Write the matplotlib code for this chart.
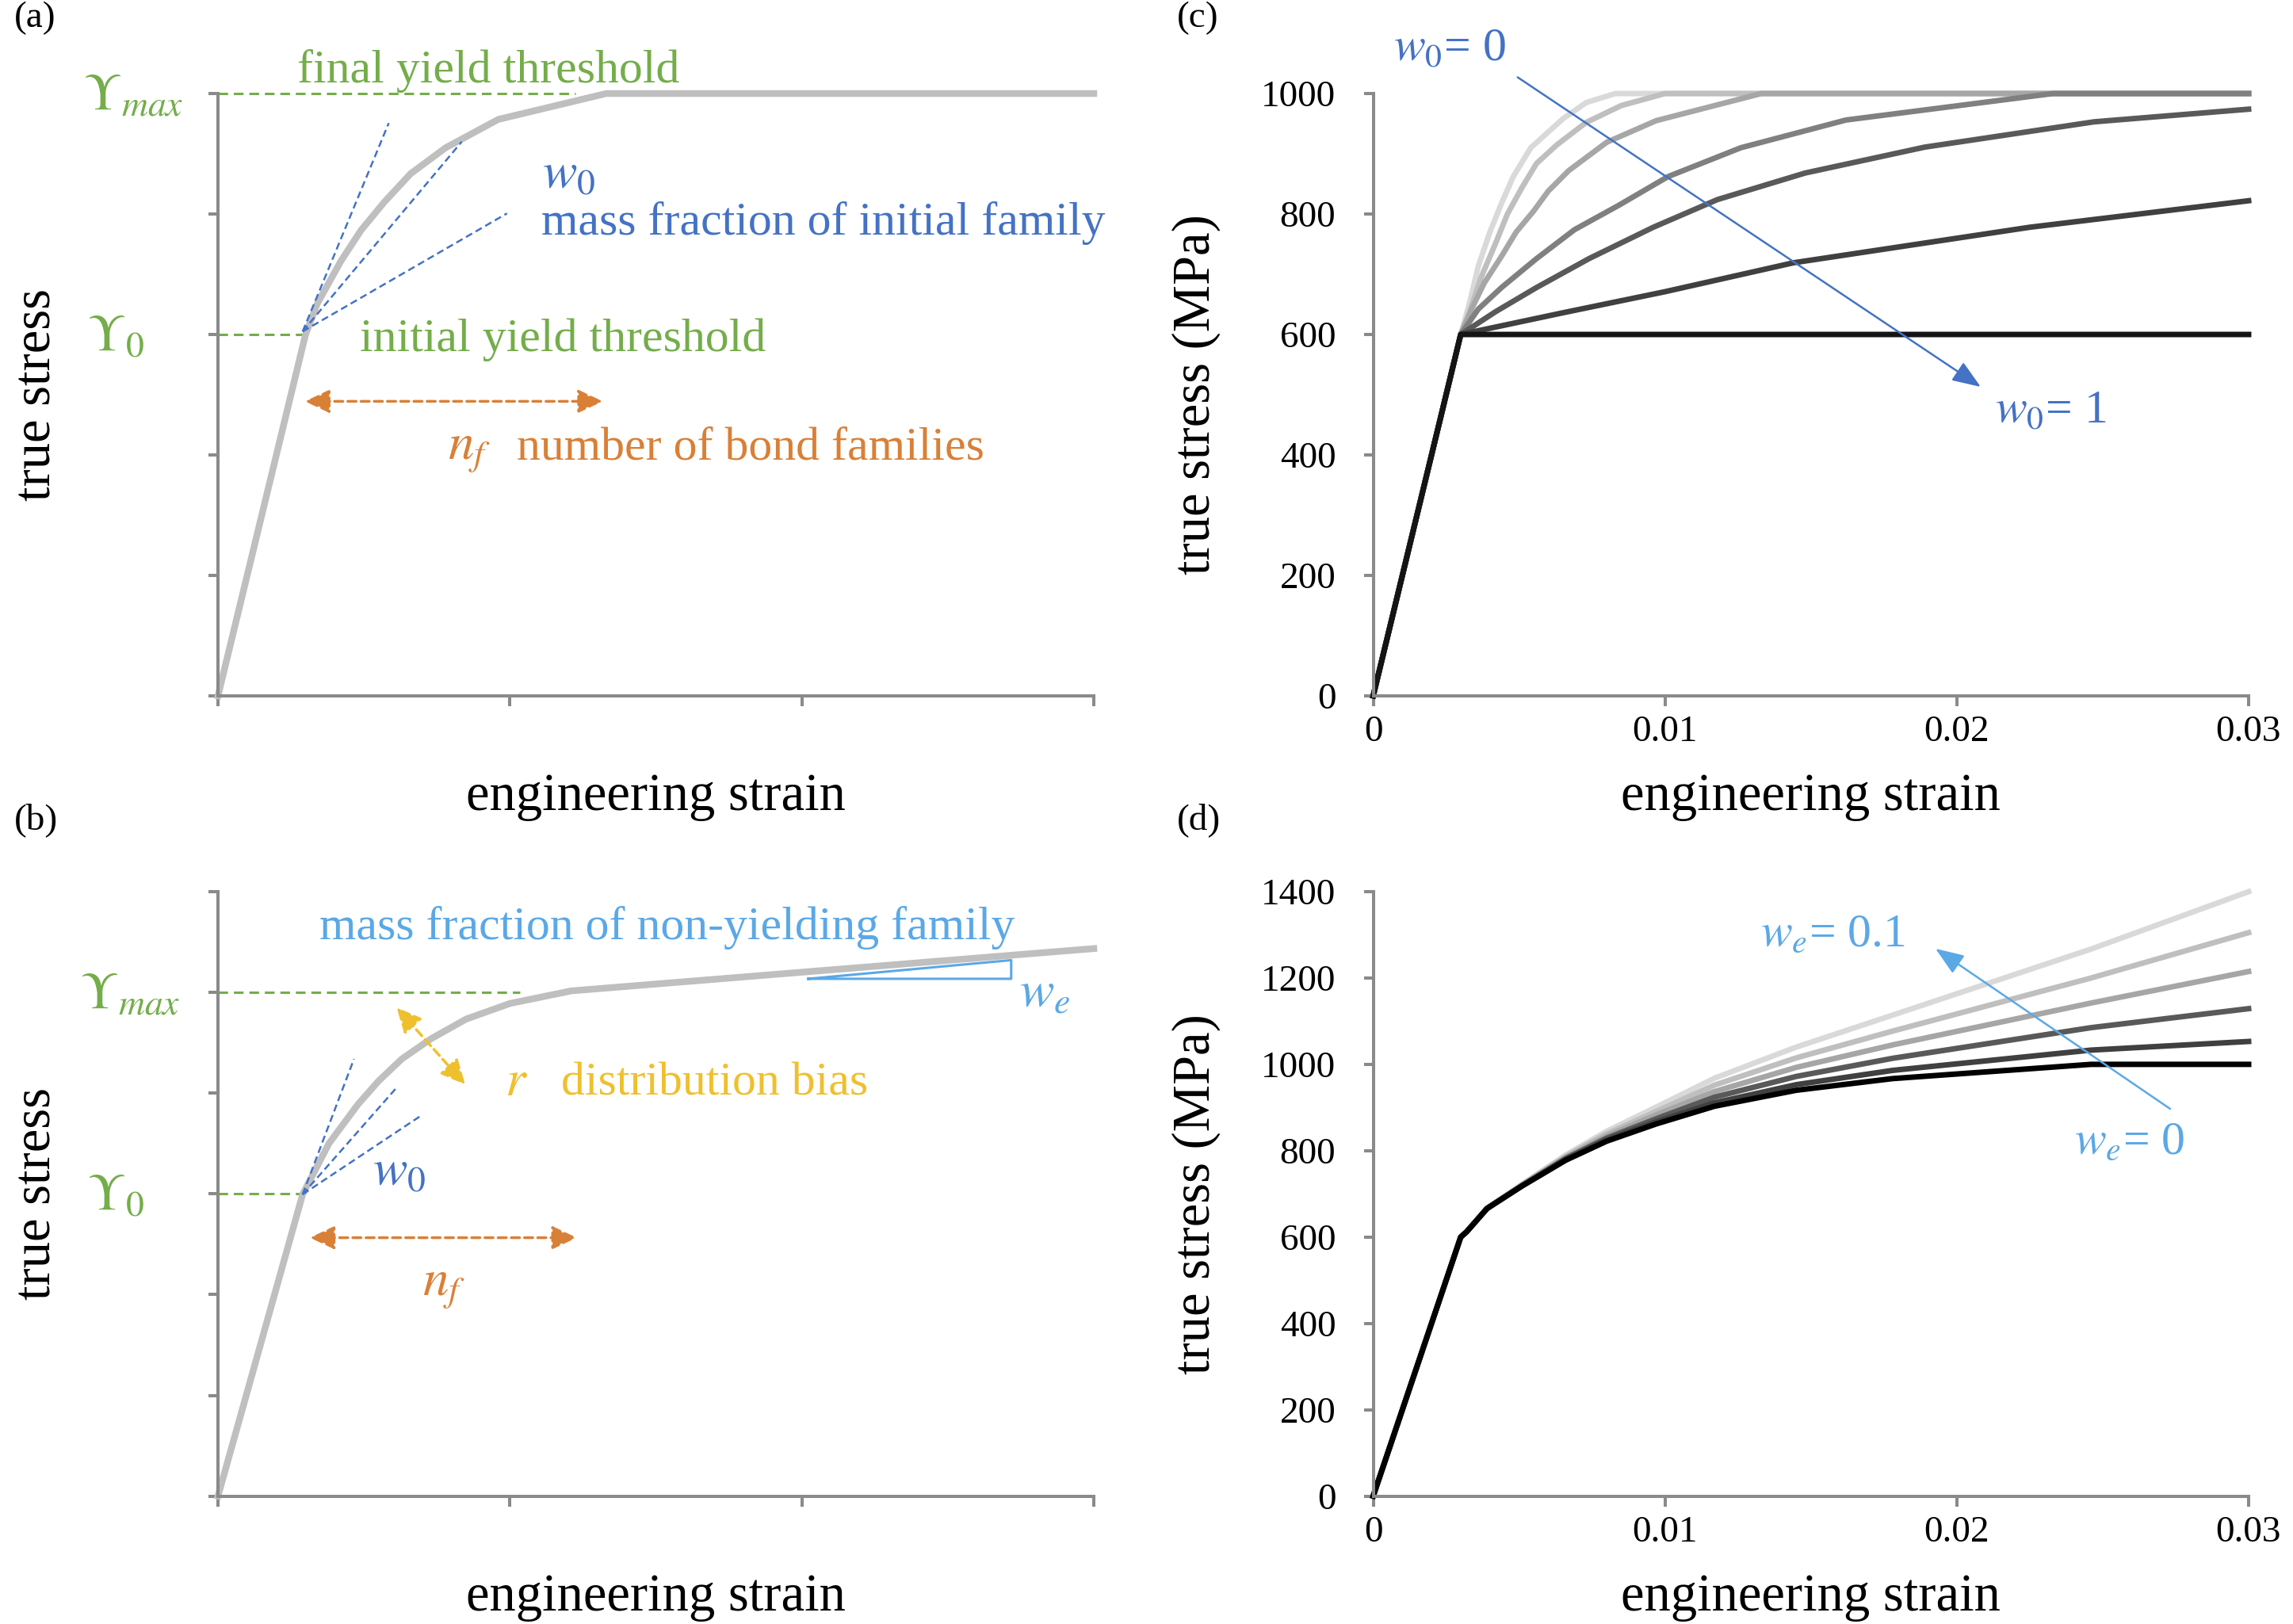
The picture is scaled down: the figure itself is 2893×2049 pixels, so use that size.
"""
Stress-strain curves for the bond-family yield model, panels (a)-(d).
"""

import matplotlib
matplotlib.use('Agg')
import matplotlib.pyplot as plt

plt.rcParams.update({
    'font.family': 'Liberation Serif',
    'mathtext.fontset': 'stix',
    'axes.spines.top': False,
    'axes.spines.right': False,
    'figure.facecolor': 'white',
    'axes.facecolor': 'white',
})

# ---------------- data ----------------
x_ticks = [0, 0.01, 0.02, 0.03]
x_tick_labels = ['0', '0.01', '0.02', '0.03']
y_ticks_c = [0, 200, 400, 600, 800, 1000]
y_ticks_d = [0, 200, 400, 600, 800, 1000, 1200, 1400]

# (a) schematic curve
a_strain = [0, 0.003, 0.0034, 0.0042, 0.0049, 0.0057, 0.0066, 0.0078, 0.0096, 0.0133, 0.03]
a_stress = [0, 600, 651, 721, 773, 820, 867, 910, 957, 1000, 1000]

# (b) schematic curve with non-yielding family
b_strain = [0, 0.0029, 0.0038, 0.0048, 0.0055, 0.0063, 0.0073, 0.0085, 0.0100, 0.0121, 0.03]
b_stress = [0, 599, 700, 778, 824, 868, 908, 947, 978, 1003, 1087]

# (c) w0 from 0 (light) to 1 (black)
c_strain_1 = [0, 0.003, 0.0033, 0.0036, 0.0040, 0.0044, 0.0048, 0.0054, 0.0065, 0.0073, 0.0083, 0.03]
c_stress_1 = [0, 600, 652, 713, 770, 818, 862, 910, 958, 985, 1000, 1000]
c_strain_2 = [0, 0.003, 0.0033, 0.0037, 0.0042, 0.0046, 0.0051, 0.0056, 0.0063, 0.0073, 0.0085, 0.0100, 0.03]
c_stress_2 = [0, 600, 637, 695, 752, 800, 844, 884, 915, 952, 980, 1000, 1000]
c_strain_3 = [0, 0.003, 0.0034, 0.0038, 0.0044, 0.0049, 0.0055, 0.0060, 0.0067, 0.0080, 0.0097, 0.0133, 0.03]
c_stress_3 = [0, 600, 645, 685, 730, 770, 805, 838, 872, 919, 955, 1000, 1000]
c_strain_4 = [0, 0.003, 0.0036, 0.0044, 0.0056, 0.0069, 0.0084, 0.0101, 0.0126, 0.0162, 0.0233, 0.03]
c_stress_4 = [0, 600, 642, 678, 726, 774, 814, 862, 910, 956, 1000, 1000]
c_strain_5 = [0, 0.003, 0.0042, 0.0056, 0.0074, 0.0096, 0.0118, 0.0148, 0.0189, 0.0247, 0.03]
c_stress_5 = [0, 600, 638, 678, 726, 778, 824, 868, 911, 953, 974]
c_strain_6 = [0, 0.003, 0.0065, 0.0100, 0.0144, 0.0225, 0.03]
c_stress_6 = [0, 600, 636, 671, 719, 778, 822]
c_strain_7 = [0, 0.003, 0.03]
c_stress_7 = [0, 600, 600]
c_colors = ['#d9d9d9', '#bfbfbf', '#a6a6a6', '#808080', '#595959', '#404040', '#141414']

# (d) we from 0.1 (light) to 0 (black)
d_strain = [0, 0.003, 0.0032, 0.0039, 0.0051, 0.0066, 0.0080, 0.0097, 0.0117, 0.0145, 0.0178, 0.0246, 0.03]
d_stress_1 = [0, 600, 612, 667, 722, 790, 845, 901, 968, 1040, 1114, 1267, 1400]
d_stress_2 = [0, 600, 612, 667, 721, 787, 839, 891, 952, 1015, 1077, 1200, 1305]
d_stress_3 = [0, 600, 612, 666, 720, 784, 834, 883, 937, 993, 1045, 1142, 1215]
d_stress_4 = [0, 600, 612, 666, 719, 782, 829, 874, 924, 972, 1014, 1085, 1129]
d_stress_5 = [0, 600, 612, 666, 719, 780, 825, 867, 911, 953, 986, 1033, 1053]
d_stress_6 = [0, 600, 612, 666, 718, 778, 822, 862, 903, 940, 967, 1000, 1000]
d_colors = ['#d9d9d9', '#bfbfbf', '#a6a6a6', '#595959', '#404040', '#000000']

# colours
GREEN = '#74ad4a'
BLUE = '#4472c4'
LBLUE = '#5ba8e6'
ORANGE = '#d98037'
YELLOW = '#efc02e'
AXIS = '#8a8a8a'
CURVE = '#bfbfbf'

FS_TICK = 34
FS_LABEL = 48
FS_NOTE = 43
FS_MATH = 47

fig = plt.figure(figsize=(28.93, 20.49), dpi=100)
ax_a = fig.add_axes([0.09506, 0.5715, 0.38196, 0.37091])
ax_b = fig.add_axes([0.09506, 0.07877, 0.38196, 0.37218])
ax_c = fig.add_axes([0.59886, 0.5715, 0.38178, 0.37091])
ax_d = fig.add_axes([0.59886, 0.07877, 0.38178, 0.37218])


def style_axes(ax, yticks, units, labels):
    ax.set_xlim(0, 0.03)
    ax.set_ylim(yticks[0], yticks[-1])
    for s in ['left', 'bottom']:
        ax.spines[s].set_color(AXIS)
        ax.spines[s].set_linewidth(2.9)
    ax.tick_params(direction='out', length=9, width=2.9, color=AXIS,
                   labelsize=FS_TICK)
    ax.tick_params(axis='x', pad=9)
    ax.tick_params(axis='y', pad=25)
    if labels:
        ax.set_xticks(x_ticks, labels=x_tick_labels)
        ax.set_yticks(yticks, labels=[str(v) for v in yticks])
    else:
        ax.set_xticks(x_ticks)
        ax.set_yticks(yticks)
        ax.tick_params(labelleft=False, labelbottom=False)
    ax.set_xlabel('engineering strain', fontsize=FS_LABEL)
    ax.set_ylabel('true stress' + units, fontsize=FS_LABEL)
    ax.xaxis.set_label_coords(0.5, -0.128)
    ax.yaxis.set_label_coords(-0.174 if labels else -0.179, 0.5)


def dbl_arrow(ax, p0, p1, color, lw=2.5):
    ax.annotate('', xy=p1, xytext=p0, annotation_clip=False,
                arrowprops=dict(arrowstyle='<|-|>,head_length=0.95,head_width=0.45',
                                color=color, lw=lw, ls=(0, (3, 1.8)),
                                mutation_scale=20, shrinkA=0, shrinkB=0))


def arrow(ax, p0, p1, color):
    ax.annotate('', xy=p1, xytext=p0, annotation_clip=False,
                arrowprops=dict(arrowstyle='-|>,head_length=1.1,head_width=0.42',
                                color=color, lw=1.8, mutation_scale=20,
                                shrinkA=0, shrinkB=0))


# ---------------- (a) ----------------
ax = ax_a
style_axes(ax, y_ticks_c, '', False)
ax.plot([0, 0.01225], [1000, 1000], color=GREEN, lw=2.2, ls=(0, (4, 2.4)), clip_on=False)
ax.plot([0, 0.00296], [600, 600], color=GREEN, lw=2.2, ls=(0, (4, 2.4)), clip_on=False)
ax.plot(a_strain, a_stress, color=CURVE, lw=6.1, clip_on=False, solid_joinstyle='round')
for end in [(0.00585, 951), (0.00835, 920), (0.0099, 801)]:
    ax.plot([0.0029, end[0]], [605, end[1]], color=BLUE, lw=1.8, ls=(0, (3.6, 2)))
dbl_arrow(ax, (0.00298, 489), (0.01318, 489), ORANGE)
ax.text(-0.00462, 972, r'$\Upsilon_{max}$', color=GREEN, fontsize=FS_MATH, va='baseline')
ax.text(-0.00448, 572, r'$\Upsilon_{0}$', color=GREEN, fontsize=FS_MATH, va='baseline')
ax.text(0.00271, 1018, 'final yield threshold', color=GREEN, fontsize=FS_NOTE, va='baseline')
ax.text(0.00485, 573, 'initial yield threshold', color=GREEN, fontsize=FS_NOTE, va='baseline')
ax.text(0.0111, 843, r'$w_0$', color=BLUE, fontsize=FS_MATH, va='baseline')
ax.text(0.01107, 766, 'mass fraction of initial family', color=BLUE, fontsize=FS_NOTE, va='baseline')
ax.text(0.00786, 393, r'$n_f$', color=ORANGE, fontsize=FS_MATH, va='baseline')
ax.text(0.01024, 393, 'number of bond families', color=ORANGE, fontsize=FS_NOTE, va='baseline')

# ---------------- (b) ----------------
ax = ax_b
style_axes(ax, y_ticks_d[:-1], '', False)
ax.plot([0, 0.01033], [1000, 1000], color=GREEN, lw=2.2, ls=(0, (4, 2.4)), clip_on=False)
ax.plot([0, 0.0028], [600, 600], color=GREEN, lw=2.2, ls=(0, (4, 2.4)), clip_on=False)
ax.plot(b_strain, b_stress, color=CURVE, lw=6.1, clip_on=False, solid_joinstyle='round')
for end in [(0.00466, 868), (0.00609, 809), (0.0070, 757)]:
    ax.plot([0.0029, end[0]], [599, end[1]], color=BLUE, lw=1.8, ls=(0, (3.6, 2)))
ax.plot([0.02022, 0.02717, 0.02717, 0.02022], [1027, 1027, 1064, 1027], color=LBLUE, lw=2.2)
dbl_arrow(ax, (0.00315, 513), (0.01229, 513), ORANGE)
dbl_arrow(ax, (0.00612, 970), (0.00847, 817), YELLOW)
ax.text(-0.00473, 967, r'$\Upsilon_{max}$', color=GREEN, fontsize=FS_MATH, va='baseline')
ax.text(-0.00448, 567, r'$\Upsilon_{0}$', color=GREEN, fontsize=FS_MATH, va='baseline')
ax.text(0.00348, 1106, 'mass fraction of non-yielding family', color=LBLUE,
        fontsize=FS_NOTE, va='baseline')
ax.text(0.02745, 970, r'$w_e$', color=LBLUE, fontsize=FS_MATH, va='baseline')
ax.text(0.00984, 796, r'$r$', color=YELLOW, fontsize=FS_MATH, va='baseline')
ax.text(0.01176, 796, 'distribution bias', color=YELLOW, fontsize=FS_NOTE, va='baseline')
ax.text(0.0053, 616, r'$w_0$', color=BLUE, fontsize=FS_MATH, va='baseline')
ax.text(0.0070, 399, r'$n_f$', color=ORANGE, fontsize=FS_MATH, va='baseline')

# ---------------- (c) ----------------
ax = ax_c
style_axes(ax, y_ticks_c, ' (MPa)', True)
c_strains = [c_strain_1, c_strain_2, c_strain_3, c_strain_4, c_strain_5, c_strain_6, c_strain_7]
c_stresses = [c_stress_1, c_stress_2, c_stress_3, c_stress_4, c_stress_5, c_stress_6, c_stress_7]
for xs, ys, col in zip(c_strains, c_stresses, c_colors):
    ax.plot(xs, ys, color=col, lw=5, clip_on=False)
arrow(ax, (0.00495, 1027), (0.02082, 513), BLUE)
ax.text(0.0007, 1055, r'$w_0$= 0', color=BLUE, fontsize=FS_NOTE, va='baseline')
ax.text(0.02132, 454, r'$w_0$= 1', color=BLUE, fontsize=FS_NOTE, va='baseline')

# ---------------- (d) ----------------
ax = ax_d
style_axes(ax, y_ticks_d, ' (MPa)', True)
d_stresses = [d_stress_1, d_stress_2, d_stress_3, d_stress_4, d_stress_5, d_stress_6]
for ys, col in zip(d_stresses, d_colors):
    ax.plot(d_strain, ys, color=col, lw=5, clip_on=False)
arrow(ax, (0.02731, 897), (0.01927, 1268), LBLUE)
ax.text(0.01327, 1273, r'$w_e$= 0.1', color=LBLUE, fontsize=FS_NOTE, va='baseline')
ax.text(0.02402, 792, r'$w_e$= 0', color=LBLUE, fontsize=FS_NOTE, va='baseline')

# panel letters
for x, y, s in [(0.0062, 0.999, '(a)'), (0.5133, 0.999, '(c)'),
                (0.0062, 0.5056, '(b)'), (0.5133, 0.5056, '(d)')]:
    fig.text(x, y, s, fontsize=34, va='top', ha='left')

fig.savefig('out.png', dpi=100)
plt.close(fig)
